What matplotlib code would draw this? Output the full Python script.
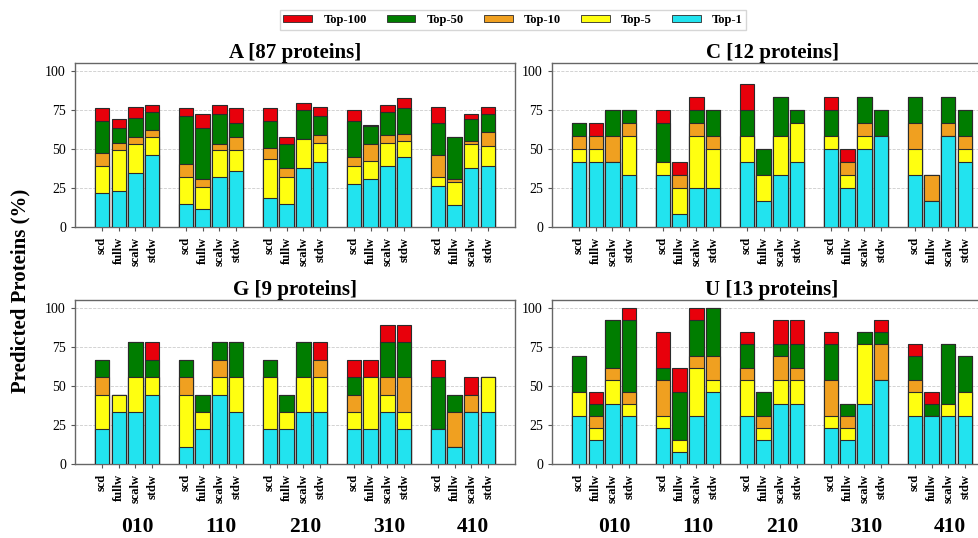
import matplotlib
matplotlib.use("Agg")
import matplotlib.pyplot as plt
import numpy as np
from matplotlib.patches import Patch

plt.rcParams["font.family"] = ["Liberation Serif", "DejaVu Serif"]
plt.rcParams["font.weight"] = "bold"

groups = ["010", "110", "210", "310", "410"]
methods = ["scd", "fullw", "scalw", "stdw"]
levels = ["Top-100", "Top-50", "Top-10", "Top-5", "Top-1"]
level_colors = ["#e8000b", "#007d00", "#f0a020", "#ffff10", "#22e3ef"]

# cumulative % of proteins predicted within top-k, 5 groups x 4 methods each
a_top1 = [21.8, 23.0, 34.5, 46.0, 14.9, 11.5, 32.2, 35.6, 18.4, 14.9, 37.9, 41.4,
          27.6, 31.0, 39.1, 44.8, 26.4, 13.8, 37.9, 39.1]
a_top5 = [39.1, 49.4, 52.9, 57.5, 32.2, 25.3, 49.4, 49.4, 43.7, 32.2, 56.3, 54.0,
          39.1, 42.5, 54.0, 55.2, 32.2, 28.7, 52.9, 51.7]
a_top10 = [47.1, 54.0, 57.5, 62.1, 40.2, 31.0, 52.9, 57.5, 50.6, 37.9, 56.3, 58.6,
           44.8, 52.9, 58.6, 59.8, 46.0, 31.0, 55.2, 60.9]
a_top50 = [67.8, 63.2, 70.1, 73.6, 71.3, 63.2, 72.4, 66.7, 67.8, 52.9, 74.7, 71.3,
           67.8, 64.4, 73.6, 75.9, 66.7, 57.5, 69.0, 72.4]
a_top100 = [75.9, 69.0, 77.0, 78.2, 75.9, 72.4, 78.2, 75.9, 75.9, 57.5, 79.3, 77.0,
            74.7, 65.5, 78.2, 82.8, 77.0, 57.5, 72.4, 77.0]

c_top1 = [41.7, 41.7, 41.7, 33.3, 33.3, 8.3, 25.0, 25.0, 41.7, 16.7, 33.3, 41.7,
          50.0, 25.0, 50.0, 58.3, 33.3, 16.7, 58.3, 41.7]
c_top5 = [50.0, 50.0, 41.7, 58.3, 41.7, 25.0, 58.3, 50.0, 58.3, 33.3, 58.3, 66.7,
          58.3, 33.3, 58.3, 58.3, 50.0, 16.7, 58.3, 50.0]
c_top10 = [58.3, 58.3, 58.3, 66.7, 41.7, 33.3, 66.7, 58.3, 58.3, 33.3, 58.3, 66.7,
           58.3, 41.7, 66.7, 58.3, 66.7, 33.3, 66.7, 58.3]
c_top50 = [66.7, 58.3, 75.0, 75.0, 66.7, 33.3, 75.0, 75.0, 75.0, 50.0, 83.3, 75.0,
           75.0, 41.7, 83.3, 75.0, 83.3, 33.3, 83.3, 75.0]
c_top100 = [66.7, 66.7, 75.0, 75.0, 75.0, 41.7, 83.3, 75.0, 91.7, 50.0, 83.3, 75.0,
            83.3, 50.0, 83.3, 75.0, 83.3, 33.3, 83.3, 75.0]

g_top1 = [22.2, 33.3, 33.3, 44.4, 11.1, 22.2, 44.4, 33.3, 22.2, 22.2, 33.3, 33.3,
          22.2, 22.2, 33.3, 22.2, 22.2, 11.1, 33.3, 33.3]
g_top5 = [44.4, 44.4, 55.6, 55.6, 44.4, 33.3, 55.6, 55.6, 55.6, 33.3, 55.6, 55.6,
          33.3, 55.6, 44.4, 33.3, 22.2, 11.1, 33.3, 55.6]
g_top10 = [55.6, 44.4, 55.6, 55.6, 55.6, 33.3, 66.7, 55.6, 55.6, 33.3, 55.6, 66.7,
           44.4, 55.6, 55.6, 55.6, 22.2, 33.3, 44.4, 55.6]
g_top50 = [66.7, 44.4, 77.8, 66.7, 66.7, 44.4, 77.8, 77.8, 66.7, 44.4, 77.8, 66.7,
           55.6, 55.6, 77.8, 77.8, 55.6, 44.4, 44.4, 55.6]
g_top100 = [66.7, 44.4, 77.8, 77.8, 66.7, 44.4, 77.8, 77.8, 66.7, 44.4, 77.8, 77.8,
            66.7, 66.7, 88.9, 88.9, 66.7, 44.4, 55.6, 55.6]

u_top1 = [30.8, 15.4, 38.5, 30.8, 23.1, 7.7, 30.8, 46.2, 30.8, 15.4, 38.5, 38.5,
          23.1, 15.4, 38.5, 53.8, 30.8, 30.8, 30.8, 30.8]
u_top5 = [46.2, 23.1, 53.8, 38.5, 30.8, 15.4, 61.5, 53.8, 53.8, 23.1, 53.8, 53.8,
          30.8, 23.1, 76.9, 53.8, 46.2, 30.8, 38.5, 46.2]
u_top10 = [46.2, 30.8, 61.5, 46.2, 53.8, 15.4, 69.2, 69.2, 61.5, 30.8, 69.2, 61.5,
           53.8, 30.8, 76.9, 76.9, 53.8, 30.8, 38.5, 46.2]
u_top50 = [69.2, 38.5, 92.3, 92.3, 61.5, 46.2, 92.3, 100.0, 76.9, 46.2, 76.9, 76.9,
           76.9, 38.5, 84.6, 84.6, 69.2, 38.5, 76.9, 69.2]
u_top100 = [69.2, 46.2, 92.3, 100.0, 84.6, 61.5, 100.0, 100.0, 84.6, 46.2, 92.3, 92.3,
            84.6, 38.5, 84.6, 92.3, 76.9, 46.2, 76.9, 69.2]

panels = [
    ("A [87 proteins]", [a_top100, a_top50, a_top10, a_top5, a_top1]),
    ("C [12 proteins]", [c_top100, c_top50, c_top10, c_top5, c_top1]),
    ("G [9 proteins]", [g_top100, g_top50, g_top10, g_top5, g_top1]),
    ("U [13 proteins]", [u_top100, u_top50, u_top10, u_top5, u_top1]),
]

W, H = 979, 538
fig = plt.figure(figsize=(W / 100, H / 100), dpi=100)

ax_w = 440 / W
ax_h = 164 / H
rects = [
    (75 / W, 1 - 227 / H, ax_w, ax_h),
    (552 / W, 1 - 227 / H, ax_w, ax_h),
    (75 / W, 1 - 464 / H, ax_w, ax_h),
    (552 / W, 1 - 464 / H, ax_w, ax_h),
]

x = np.array([g * 5 + m for g in range(len(groups)) for m in range(len(methods))], dtype=float)
tick_names = methods * len(groups)

for idx, ((title, series), rect) in enumerate(zip(panels, rects)):
    ax = fig.add_axes(rect)
    # looser levels first, tighter levels drawn on top
    for vals, color in zip(series, level_colors):
        ax.bar(x, vals, width=0.85, color=color, edgecolor="#2b2b2b", linewidth=0.8, zorder=3)
    ax.set_xlim(-1.6, 24.6)
    ax.set_ylim(0, 105)
    ax.set_yticks([0, 25, 50, 75, 100])
    ax.set_xticks(x)
    ax.set_xticklabels(tick_names, rotation=90, fontsize=9)
    ax.tick_params(axis="y", labelsize=10, length=3, color="#555555")
    ax.tick_params(axis="x", length=3, color="#555555", pad=4)
    for lab in ax.get_yticklabels():
        lab.set_fontweight("normal")
    ax.yaxis.grid(True, linestyle="--", color="#cccccc", linewidth=0.6, zorder=0)
    ax.set_axisbelow(True)
    for sp in ax.spines.values():
        sp.set_color("#666666")
        sp.set_linewidth(1.0)
    ax.set_title(title, fontsize=15, fontweight="bold", pad=3)
    if idx >= 2:
        for gi, gname in enumerate(groups):
            ax.text(gi * 5 + 2.1, -0.385, gname, transform=ax.get_xaxis_transform(),
                    ha="center", va="center", fontsize=15.5, fontweight="bold")

fig.text(0.021, 0.46, "Predicted Proteins (%)", rotation=90, ha="center", va="center",
         fontsize=15, fontweight="bold")

handles = [Patch(facecolor=c, edgecolor="#2b2b2b", linewidth=0.6) for c in level_colors]
fig.legend(handles, levels, loc="center", bbox_to_anchor=(0.524, 0.963), ncol=5,
           fontsize=9, handlelength=2.3, handleheight=0.6, handletextpad=0.9,
           columnspacing=1.6, frameon=True, edgecolor="#cccccc", fancybox=False,
           borderpad=0.3)

fig.savefig("out.png", dpi=100)
